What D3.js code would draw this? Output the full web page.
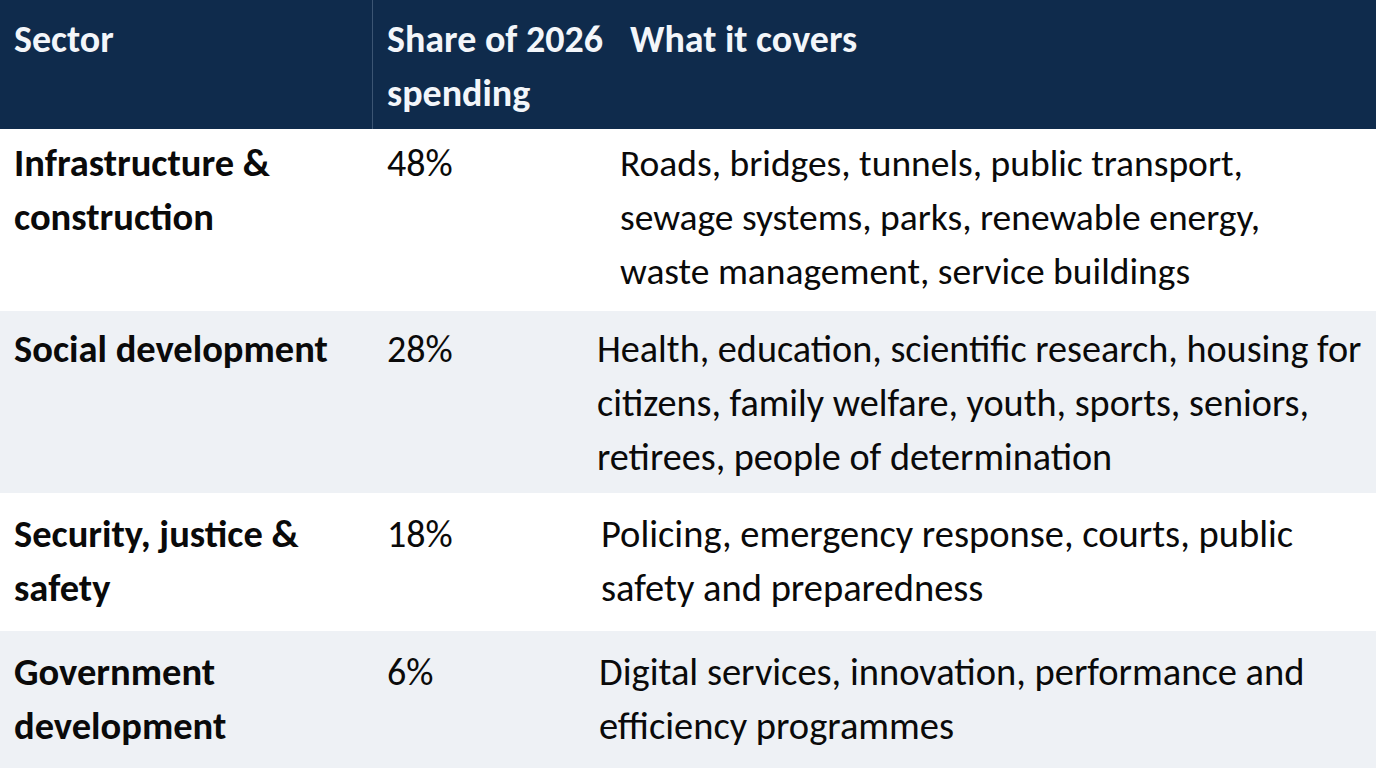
<!doctype html>
<html>
<head>
<meta charset="utf-8">
<title>2026 spending by sector</title>
<style>
  body { margin:0; background:#fff; }
  svg { display:block; }
  text { font-family: Carlito, "Liberation Sans Narrow", "DejaVu Sans Condensed", sans-serif; }
  .head text { fill:#f3f6fa; font-weight:bold; font-size:38px; }
  .sector { font-weight:bold; fill:#0a0a0a; font-size:38.5px; }
  .share { fill:#0a0a0a; font-size:38px; }
  .desc { fill:#0a0a0a; }
</style>
<script src="https://d3js.org/d3.v7.min.js"></script>
</head>
<body>
<svg id="tbl" width="1376" height="768"></svg>
<script>

// table content
var headers = [["Sector"], ["Share of 2026", "spending"], ["What it covers"]]
var sectors = [
  ["Infrastructure &", "construction"],
  ["Social development"],
  ["Security, justice &", "safety"],
  ["Government", "development"]
]
var shares = [48, 28, 18, 6]
var covers = [
  ["Roads, bridges, tunnels, public transport,", "sewage systems, parks, renewable energy,", "waste management, service buildings"],
  ["Health, education, scientific research, housing for", "citizens, family welfare, youth, sports, seniors,", "retirees, people of determination"],
  ["Policing, emergency response, courts, public", "safety and preparedness"],
  ["Digital services, innovation, performance and", "efficiency programmes"]
]

// layout
var W = 1376, H = 768
var headH = 129
var lineH = 54
var colX = { sector: 14, share: 387, cover: 600 }
var headX = [14, 387, 630]
var coverShift = [20, -3, 1, -1]
var coverSize = [37.5, 38.2, 38.5, 38.5]
var firstBase = [47, 51, 54, 54]

var svg = d3.select("#tbl")

// row heights follow the number of text lines
var nLines = sectors.map(function(d, i){ return Math.max(d.length, covers[i].length) })
var rowH = nLines.map(function(n){ return 50 + n * 44 })
var rowTop = []
var acc = headH
rowH.forEach(function(h){ rowTop.push(acc); acc += h })

var y = d3.scaleLinear().domain([0, H]).range([0, H])

// header band
var head = svg.append("g").attr("class", "head")
head.append("rect")
    .attr("x", 0).attr("y", 0)
    .attr("width", W).attr("height", y(headH))
    .attr("fill", "#0f2b4c")
head.append("line")
    .attr("x1", 372.5).attr("x2", 372.5)
    .attr("y1", 0).attr("y2", y(headH))
    .attr("stroke", "#3c5573").attr("stroke-width", 1)

head.selectAll("text.h")
    .data(headers)
    .enter()
    .append("text")
    .attr("class", "h")
    .attr("x", function(d, i){ return headX[i] })
    .attr("y", 52)
    .selectAll("tspan")
    .data(function(d){ return d })
    .enter()
    .append("tspan")
    .attr("x", function(){ return this.parentNode.getAttribute("x") })
    .attr("dy", function(d, i){ return i === 0 ? 0 : lineH })
    .text(function(d){ return d })

// body rows
var rows = svg.selectAll("g.row")
    .data(sectors)
    .enter()
    .append("g")
    .attr("class", "row")
    .attr("transform", function(d, i){ return "translate(0," + y(rowTop[i]) + ")" })

rows.append("rect")
    .attr("x", 0).attr("y", 0)
    .attr("width", W)
    .attr("height", function(d, i){ return y(rowH[i]) })
    .attr("fill", function(d, i){ return i % 2 ? "#eef1f5" : "#ffffff" })

function addLines(sel, cls, xFn, linesFn) {
  return sel.append("text")
    .attr("class", cls)
    .attr("x", xFn)
    .attr("y", function(d, i){ return firstBase[i] })
    .each(function(d, i){
      var t = d3.select(this)
      var x = t.attr("x")
      t.selectAll("tspan")
        .data(linesFn(d, i))
        .enter()
        .append("tspan")
        .attr("x", x)
        .attr("dy", function(l, j){ return j === 0 ? 0 : lineH })
        .text(function(l){ return l })
    })
}

addLines(rows, "sector", function(){ return colX.sector }, function(d){ return d })
addLines(rows, "share", function(){ return colX.share }, function(d, i){ return [shares[i] + "%"] })
addLines(rows, "desc", function(d, i){ return colX.cover + coverShift[i] }, function(d, i){ return covers[i] })
  .style("font-size", function(d, i){ return coverSize[i] + "px" })

</script>
</body>
</html>
